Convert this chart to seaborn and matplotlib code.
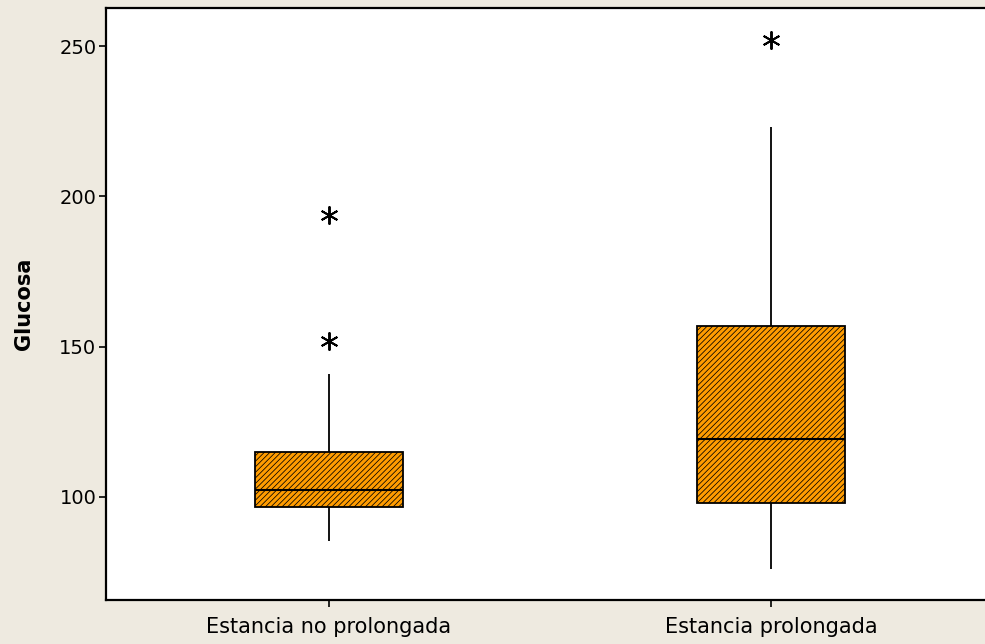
import pandas as pd
import seaborn as sns
import matplotlib.pyplot as plt

# Glucose by length of hospital stay
groups = ["Estancia no prolongada", "Estancia prolongada"]
whisker_low = [85.2, 76.0]
q1 = [96.6, 97.9]
median = [102.3, 119.4]
q3 = [114.8, 156.8]
whisker_high = [141.0, 223.2]
outliers = [[152.0, 193.7], [252.0]]
y_ticks = [100, 150, 200, 250]

# Long-form table: with n = 4k + 1 sorted points the quartiles fall on
# indices k, 2k and 3k, so repeating each summary value k times
# (k = number of outliers + 1) lets seaborn recover these box statistics.
rows = []
for g, lo, a, m, b, hi, out in zip(groups, whisker_low, q1, median, q3,
                                   whisker_high, outliers):
    k = len(out) + 1
    vals = [lo] + [a] * k + [m] * k + [b] * k + [hi] + list(out)
    rows.extend({"Grupo": g, "Glucosa": v} for v in vals)
df = pd.DataFrame(rows)

sns.set_style("white")
plt.rcParams["font.family"] = ["DejaVu Sans"]
plt.rcParams["hatch.linewidth"] = 0.55
plt.rcParams["hatch.color"] = "#000000"

bg = "#EEEAE0"
orange = "#FF9C00"
fig = plt.figure(figsize=(9.85, 6.44), dpi=100, facecolor=bg)
W, H = 985, 644
left_px, right_px, top_px, bottom_px = 106, 995, 8, 600
ax = fig.add_axes([left_px / W, 1 - bottom_px / H,
                   (right_px - left_px) / W, (bottom_px - top_px) / H])
ax.set_facecolor("white")

sns.boxplot(
    data=df, x="Grupo", y="Glucosa", order=groups, ax=ax,
    width=0.337, whis=1.5, showcaps=False,
    color=orange, saturation=1,
    linecolor="black", linewidth=1.3,
    flierprops=dict(marker=(6, 2, 0), markersize=13, markeredgewidth=1.4,
                    markeredgecolor="black", markerfacecolor="black"),
    medianprops=dict(color="black", linewidth=1.5),
)
for p in ax.patches:
    p.set_hatch("//////")
    p.set_edgecolor("black")
    p.set_facecolor(orange)

# Axis ranges and ticks
c0, c1 = 329, 771
step = c1 - c0
ax.set_xlim((left_px - c0) / step, (right_px - c0) / step)
ax.set_ylim(100 - (bottom_px - 497) / 3, 250 + (46 - top_px) / 3)
ax.set_yticks(y_ticks)
ax.set_xticks(range(len(groups)))
ax.set_xticklabels(groups)

ax.tick_params(axis="both", which="major", direction="out", length=5,
               width=1.2, color="black", labelcolor="black",
               left=True, bottom=True)
ax.tick_params(axis="x", pad=7, labelsize=15)
ax.tick_params(axis="y", pad=2, labelsize=14)

for s in ax.spines.values():
    s.set_color("black")
    s.set_linewidth(1.6)

ax.set_xlabel("")
ax.set_ylabel("Glucosa", fontsize=15, fontweight="bold", color="black")
ax.yaxis.set_label_coords(-72 / (right_px - left_px), 0.5)

fig.savefig("out.png", dpi=100, facecolor=bg)
